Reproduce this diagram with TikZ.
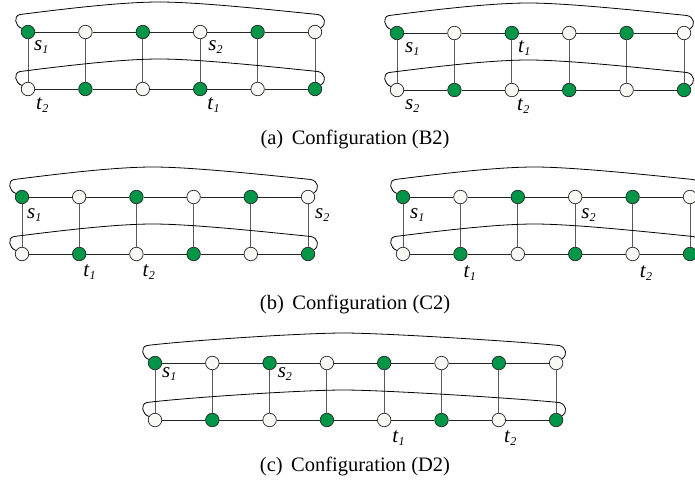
\documentclass[tikz,border=0pt]{standalone}
\usepackage{fontspec}
\setmainfont{Liberation Serif}
\usetikzlibrary{calc}
\definecolor{nodegreen}{RGB}{0,150,72}
\definecolor{nodewhite}{RGB}{248,248,245}
\newcommand\lab[2]{\textit{#1}\raisebox{-3pt}{\fontsize{12}{12}\selectfont\textit{#2}}}
\tikzset{
  vtx/.style={circle,draw=black!85,minimum size=13.5pt,inner sep=0pt,line width=0.7pt},
  hedge/.style={draw=black!85,line width=0.9pt},
  vedge/.style={draw=black!65,line width=0.9pt},
  hookline/.style={draw=black,line width=0.8pt},
  labtext/.style={font=\fontsize{21}{21}\selectfont,inner sep=0pt,anchor=base west},
  captext/.style={font=\fontsize{20.5}{21}\selectfont,inner sep=0pt,anchor=base}
}
\newcommand\hookarc[2]{%
  \draw[hookline] (#1.150) .. controls ($(#1)+(-13,-6)$) and ($(#1)+(-15,-16)$) .. ($(#1)+(-8,-17.5)$)
    .. controls ($(#1)+(32,-22.5)$) and ($(#1)!0.5!(#2)+(-52,-30)$) .. ($(#1)!0.5!(#2)+(-12,-30)$)
    .. controls ($(#1)!0.5!(#2)+(28,-30)$) and ($(#2)+(-37,-21.5)$) .. ($(#2)+(3,-17.5)$)
    .. controls ($(#2)+(10,-16)$) and ($(#2)+(12,-8)$) .. (#2.35);
}
% #1 prefix, #2 x of first node, #3 y of top row, #4 number of nodes, #5 spacing
\newcommand\ladder[5]{%
  \foreach \i in {1,...,#4}{%
    \pgfmathsetmacro\xx{#2+(\i-1)*#5}%
    \ifodd\i \def\tc{nodegreen}\def\bc{nodewhite}\else \def\tc{nodewhite}\def\bc{nodegreen}\fi
    \node[vtx,fill=\tc] (#1t\i) at (\xx,#3) {};
    \node[vtx,fill=\bc] (#1b\i) at (\xx,#3+57) {};
  }
  \pgfmathtruncatemacro\nm{#4-1}%
  \foreach \i [evaluate=\i as \j using int(\i+1)] in {1,...,\nm}{%
    \draw[hedge] (#1t\i) -- (#1t\j);
    \draw[hedge] (#1b\i) -- (#1b\j);
  }
  \foreach \i in {1,...,#4}{\draw[vedge] (#1t\i) -- (#1b\i);}
  \hookarc{#1t1}{#1t#4}
  \hookarc{#1b1}{#1b#4}
}
\begin{document}
\begin{tikzpicture}[x=1pt,y=-1pt]
\useasboundingbox (0,0) rectangle (695,488);
% (a) left
\ladder{A}{28}{32}{6}{57.4}
\node[labtext] (As1) at ($(At1)+(6,18)$) {\lab{s}{1}};
\node[labtext] (As2) at ($(At4)+(8,18)$) {\lab{s}{2}};
\node[labtext] (At2l) at ($(Ab1)+(8,20)$) {\lab{t}{2}};
\node[labtext] (At1l) at ($(Ab4)+(7,20)$) {\lab{t}{1}};
% (a) right
\ladder{B}{397}{33}{6}{57.4}
\node[labtext] (Bs1) at ($(Bt1)+(8,19)$) {\lab{s}{1}};
\node[labtext] (Bt1l) at ($(Bt3)+(6,19)$) {\lab{t}{1}};
\node[labtext] (Bs2) at ($(Bb1)+(8,19)$) {\lab{s}{2}};
\node[labtext] (Bt2l) at ($(Bb3)+(5,20)$) {\lab{t}{2}};
\node[captext] (capa) at (355,144) {(a)\, Configuration (B2)};
% (b) left
\ladder{C}{22}{197}{6}{57.2}
\node[labtext] (Cs1) at ($(Ct1)+(5,21)$) {\lab{s}{1}};
\node[labtext] (Cs2) at ($(Ct6)+(7,21)$) {\lab{s}{2}};
\node[labtext] (Ct1l) at ($(Cb2)+(4,22)$) {\lab{t}{1}};
\node[labtext] (Ct2l) at ($(Cb3)+(6,22)$) {\lab{t}{2}};
% (b) right
\ladder{D}{403}{197}{6}{57.4}
\node[labtext] (Ds1) at ($(Dt1)+(7,21)$) {\lab{s}{1}};
\node[labtext] (Ds2) at ($(Dt4)+(6,21)$) {\lab{s}{2}};
\node[labtext] (Dt1l) at ($(Db2)+(3,23)$) {\lab{t}{1}};
\node[labtext] (Dt2l) at ($(Db5)+(7,23)$) {\lab{t}{2}};
\node[captext] (capb) at (355,309) {(b)\, Configuration (C2)};
% (c)
\ladder{E}{155}{363}{8}{57.3}
\node[labtext] (Es1) at ($(Et1)+(7,14)$) {\lab{s}{1}};
\node[labtext] (Es2) at ($(Et3)+(8,14)$) {\lab{s}{2}};
\node[labtext] (Et1l) at ($(Eb5)+(8,22)$) {\lab{t}{1}};
\node[labtext] (Et2l) at ($(Eb7)+(5,22)$) {\lab{t}{2}};
\node[captext] (capc) at (355,471) {(c)\, Configuration (D2)};
\end{tikzpicture}
\end{document}
